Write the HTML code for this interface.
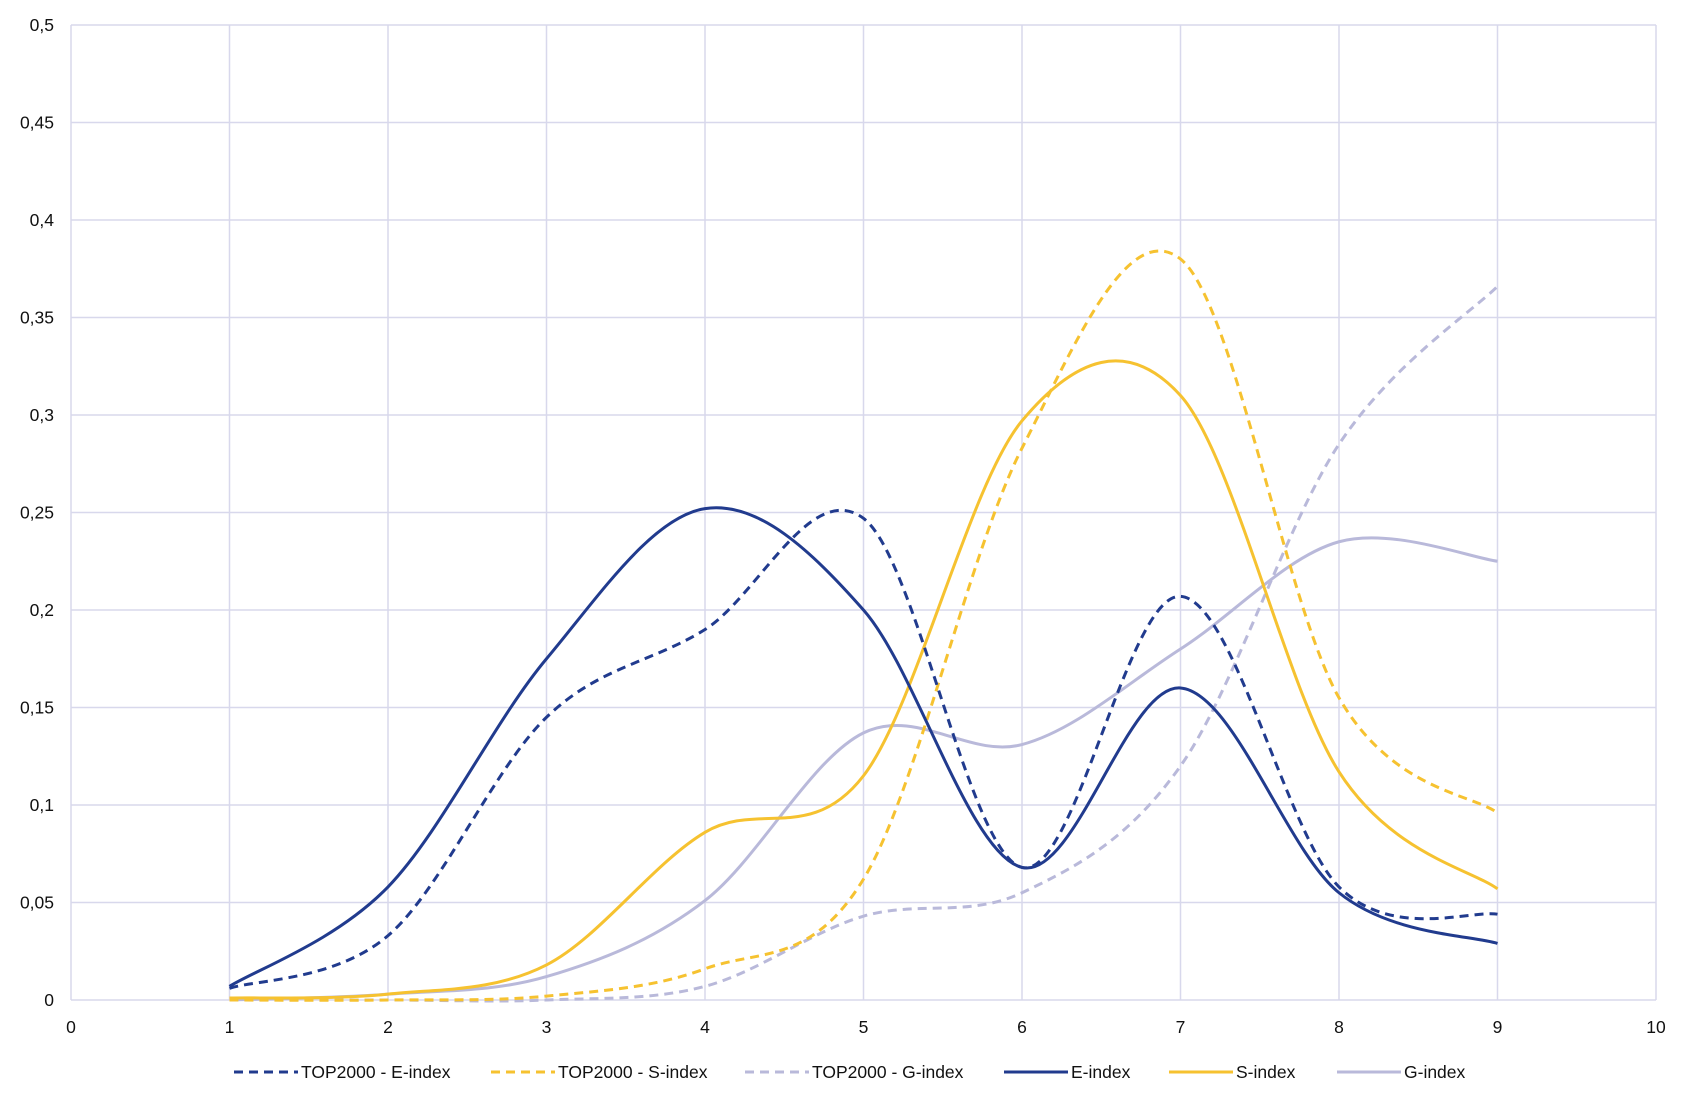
<!DOCTYPE html>
<html><head><meta charset="utf-8"><style>
body{margin:0;background:#fff;}
svg{display:block;font-family:"Liberation Sans",sans-serif;}
</style></head><body>
<svg id="chart" width="1692" height="1106"></svg>
<script>
const categories=[1,2,3,4,5,6,7,8,9];
const topE=[0.006,0.033,0.145,0.19,0.247,0.068,0.207,0.058,0.044];
const topS=[0.0,0.0,0.002,0.016,0.062,0.283,0.38,0.155,0.096];
const topG=[0.0,0.0,0.0,0.007,0.043,0.055,0.12,0.285,0.366];
const eIdx=[0.007,0.058,0.175,0.252,0.2,0.068,0.16,0.055,0.029];
const sIdx=[0.001,0.003,0.018,0.086,0.115,0.297,0.31,0.117,0.057];
const gIdx=[0.0,0.003,0.012,0.051,0.137,0.131,0.18,0.235,0.225];
const xTicks=[0,1,2,3,4,5,6,7,8,9,10];
const yTicks=[0,0.05,0.1,0.15,0.2,0.25,0.3,0.35,0.4,0.45,0.5];
const yLabels=["0","0,05","0,1","0,15","0,2","0,25","0,3","0,35","0,4","0,45","0,5"];
const seriesNames=["TOP2000 - E-index","TOP2000 - S-index","TOP2000 - G-index","E-index","S-index","G-index"];

const L=71,R=1656,T=25,B=1000;
const xs=v=>L+(v-0)/10*(R-L);
const ys=v=>B-v/0.5*(B-T);
const NS="http://www.w3.org/2000/svg";
const svg=document.getElementById('chart');
function mk(t,a,p){const e=document.createElementNS(NS,t);for(const k in a)e.setAttribute(k,a[k]);(p||svg).appendChild(e);return e;}

yTicks.forEach((v,i)=>{
  const g=mk('line',{x1:L,x2:R,y1:ys(v),y2:ys(v),stroke:'#d8d8ec','stroke-width':1.5});
  
  
  const t=mk('text',{x:L-17,y:ys(v)+6,'text-anchor':'end','font-size':17.5,fill:'#111'});
  t.textContent=yLabels[i];
  
  
});
xTicks.forEach(v=>{
  const g=mk('line',{x1:xs(v),x2:xs(v),y1:T,y2:B,stroke:'#d8d8ec','stroke-width':1.5});
  
  
  const t=mk('text',{x:xs(v),y:1033,'text-anchor':'middle','font-size':17.5,fill:'#111'});
  t.textContent=String(v);
  
  
});

function path(vals){
  const p=vals.map((v,i)=>[xs(categories[i]),ys(v)]);
  let d=`M${p[0][0]},${p[0][1]}`;
  for(let i=0;i<p.length-1;i++){
    const p0=p[Math.max(i-1,0)],p1=p[i],p2=p[i+1],p3=p[Math.min(i+2,p.length-1)];
    const c1=[p1[0]+(p2[0]-p0[0])/6,p1[1]+(p2[1]-p0[1])/6];
    const c2=[p2[0]-(p3[0]-p1[0])/6,p2[1]-(p3[1]-p1[1])/6];
    d+=`C${c1[0]},${c1[1]} ${c2[0]},${c2[1]} ${p2[0]},${p2[1]}`;
  }
  return d;
}
const NAVY='#213b8e',YEL='#f6c230',LAV='#b9b9da';
const styles=[[NAVY,'9 6'],[YEL,'9 6'],[LAV,'9 6'],[NAVY,''],[YEL,''],[LAV,'']];
const datas=[topE,topS,topG,eIdx,sIdx,gIdx];
const names=['series-top2000-e-index','series-top2000-s-index','series-top2000-g-index','series-e-index','series-s-index','series-g-index'];
const order=[2,5,1,4,0,3];
order.forEach(i=>{
  const a={d:path(datas[i]),fill:'none',stroke:styles[i][0],'stroke-width':3,'stroke-linejoin':'round'};
  if(styles[i][1])a['stroke-dasharray']=styles[i][1];
  const e=mk('path',a);
  
  
});
const legX=[234,491,745,1004,1169,1337];
seriesNames.forEach((n,i)=>{
  const g=mk('g',{});
  
  
  const a={x1:legX[i],x2:legX[i]+64,y1:1072,y2:1072,stroke:styles[i][0],'stroke-width':3};
  if(styles[i][1])a['stroke-dasharray']='9 6';
  mk('line',a,g);
  const t=mk('text',{x:legX[i]+67,y:1078,'font-size':17.5,fill:'#111'},g);
  t.textContent=n;
});
</script>
</body></html>
